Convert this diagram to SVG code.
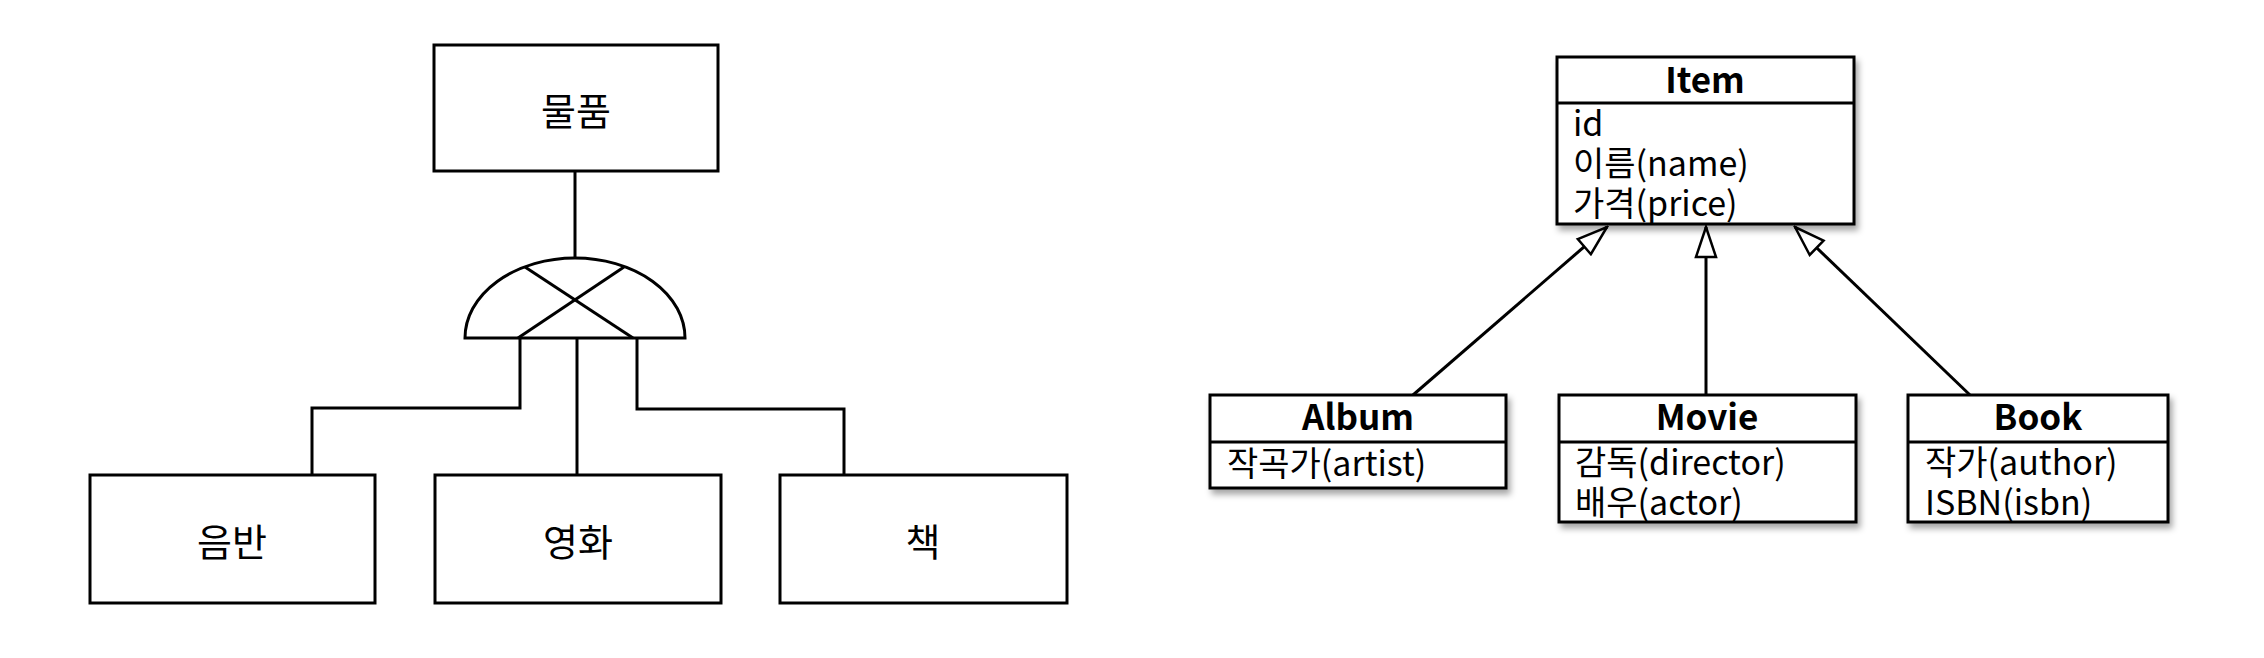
<svg xmlns="http://www.w3.org/2000/svg" width="2264" height="658" viewBox="0 0 2264 658">
  <style>
    .box { fill: #ffffff; stroke: #000000; stroke-width: 3; }
    .uml { fill: #ffffff; stroke: #000000; stroke-width: 3; }
    .line { fill: none; stroke: #000000; stroke-width: 3; }
    .kor { font-family: "Noto Sans CJK KR", "Noto Sans", sans-serif; font-size: 38px; fill: #000; text-anchor: middle; }
    .title { font-family: "Noto Sans CJK KR", "Noto Sans", sans-serif; font-size: 35px; font-weight: bold; fill: #000; text-anchor: middle; }
    .attr { font-family: "Noto Sans CJK KR", "Noto Sans", sans-serif; font-size: 34px; fill: #000; }
  </style>
  <defs>
    <filter id="shadow" x="-10%" y="-10%" width="130%" height="140%">
      <feDropShadow dx="3" dy="5" stdDeviation="3" flood-color="#000000" flood-opacity="0.35"/>
    </filter>
    <marker id="hollow" viewBox="-2 -2 34 24" refX="30" refY="10" markerWidth="34" markerHeight="24" markerUnits="userSpaceOnUse" orient="auto">
      <path d="M0,0 L30,10 L0,20 Z" fill="#ffffff" stroke="#000000" stroke-width="2.5" stroke-linejoin="miter"/>
    </marker>
  </defs>
  <rect width="2264" height="658" fill="#ffffff"/>

  <!-- Left diagram connectors -->
  <g id="connectors-left">
    <line class="line" x1="575" y1="171" x2="575" y2="258"/>
    <path class="line" d="M520,338 L520,408 L312,408 L312,475"/>
    <line class="line" x1="577" y1="338" x2="577" y2="475"/>
    <path class="line" d="M637,338 L637,409 L844,409 L844,475"/>
  </g>

  <!-- Exclusive subtype symbol -->
  <g id="gate">
    <path class="line" d="M465,338 A110,80 0 0 1 685,338 Z"/>
    <line class="line" x1="525" y1="267" x2="633" y2="338"/>
    <line class="line" x1="624" y1="267" x2="518" y2="338"/>
  </g>

  <g id="node-goods">
    <rect class="box" x="434" y="45" width="284" height="126"/>
    <text class="kor" x="576" y="108" dominant-baseline="central">물품</text>
  </g>
  <g id="node-album-kr">
    <rect class="box" x="90" y="475" width="285" height="128"/>
    <text class="kor" x="232" y="539" dominant-baseline="central">음반</text>
  </g>
  <g id="node-movie-kr">
    <rect class="box" x="435" y="475" width="286" height="128"/>
    <text class="kor" x="578" y="539" dominant-baseline="central">영화</text>
  </g>
  <g id="node-book-kr">
    <rect class="box" x="780" y="475" width="287" height="128"/>
    <text class="kor" x="923" y="539" dominant-baseline="central">책</text>
  </g>

  <!-- UML connectors -->
  <g id="connectors-uml">
    <line class="line" x1="1413" y1="395" x2="1607" y2="227" stroke-width="2.5" marker-end="url(#hollow)"/>
    <line class="line" x1="1706" y1="395" x2="1706" y2="227" stroke-width="2.5" marker-end="url(#hollow)"/>
    <line class="line" x1="1970" y1="395" x2="1795" y2="227" stroke-width="2.5" marker-end="url(#hollow)"/>
  </g>

  <g id="class-item">
    <rect class="uml" x="1557" y="57" width="297" height="167" filter="url(#shadow)"/>
    <line class="line" x1="1557" y1="103" x2="1854" y2="103"/>
    <text class="title" x="1705" y="93">Item</text>
    <text class="attr" x="1573" y="136">id</text>
    <text class="attr" x="1573" y="176">이름(name)</text>
    <text class="attr" x="1573" y="216">가격(price)</text>
  </g>
  <g id="class-album">
    <rect class="uml" x="1210" y="395" width="296" height="93" filter="url(#shadow)"/>
    <line class="line" x1="1210" y1="442" x2="1506" y2="442"/>
    <text class="title" x="1358" y="430">Album</text>
    <text class="attr" x="1227" y="476">작곡가(artist)</text>
  </g>
  <g id="class-movie">
    <rect class="uml" x="1559" y="395" width="297" height="127" filter="url(#shadow)"/>
    <line class="line" x1="1559" y1="442" x2="1856" y2="442"/>
    <text class="title" x="1707" y="430">Movie</text>
    <text class="attr" x="1575" y="475">감독(director)</text>
    <text class="attr" x="1575" y="515">배우(actor)</text>
  </g>
  <g id="class-book">
    <rect class="uml" x="1908" y="395" width="260" height="127" filter="url(#shadow)"/>
    <line class="line" x1="1908" y1="442" x2="2168" y2="442"/>
    <text class="title" x="2038" y="430">Book</text>
    <text class="attr" x="1925" y="475">작가(author)</text>
    <text class="attr" x="1925" y="515">ISBN(isbn)</text>
  </g>
</svg>
